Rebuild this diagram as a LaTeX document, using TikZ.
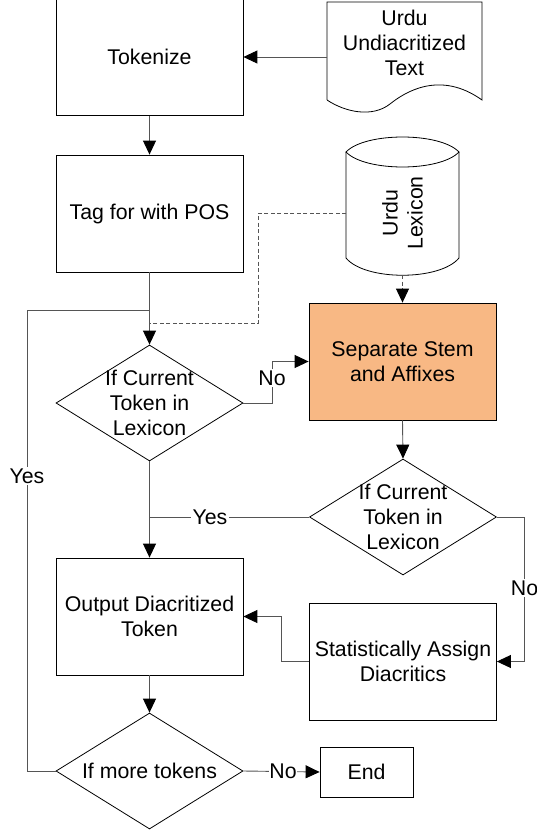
\documentclass[tikz,border=0pt]{standalone}
\usepackage{fontspec}
\setmainfont{Liberation Sans}
\usetikzlibrary{arrows.meta,shapes.geometric}
\definecolor{peach}{RGB}{248,184,132}
\definecolor{conncol}{RGB}{85,85,85}
\begin{document}
\begin{tikzpicture}[x=1pt,y=-1pt,
  every node/.style={font=\fontsize{21.3}{25}\selectfont},
  box/.style={draw=black, line width=0.8pt, align=center, inner sep=0pt,
              minimum width=187pt, minimum height=117pt},
  dia/.style={draw=black, line width=0.8pt, diamond, inner sep=0pt,
              minimum width=187pt, minimum height=116pt},
  txt/.style={align=center, inner sep=0pt},
  shp/.style={draw=black, line width=0.8pt},
  conn/.style={draw=conncol, line width=0.9pt},
  dsh/.style={dash pattern=on 4pt off 2.5pt},
  arr/.style={conn, -{Triangle[length=14pt,width=13pt,color=black]}},
  lbl/.style={fill=white, inner sep=1.5pt}]
\useasboundingbox (0,0) rectangle (537,832);

% boxes
\node[box] (tok) at (149.5,57) {Tokenize};
\node[box] (tag) at (149.5,213.5) {Tag for with POS};
\node[box, fill=peach] (sep) at (402.5,361.5) {Separate Stem\\and Affixes};
\node[box] (out) at (149.5,616.5) {Output Diacritized\\Token};
\node[box] (stat) at (403,661.5) {Statistically Assign\\Diacritics};
\node[box, minimum width=93pt, minimum height=50pt] (end) at (366.5,772) {End};

% diamonds
\node[dia] (d1) at (149.5,403) {};
\node[txt] (d1t) at (d1) {If Current\\Token in\\Lexicon};
\node[dia] (d2) at (403,517) {};
\node[txt] (d2t) at (d2) {If Current\\Token in\\Lexicon};
\node[dia] (d3) at (149.5,771) {};
\node[txt] (d3t) at (d3) {If more tokens};

% document shape
\draw[shp] (327,100) -- (327,2) -- (482,2) -- (482,100)
  .. controls (440,70) and (405,92) .. (390,104)
  .. controls (372,118) and (345,112) .. (327,100);
\node[txt] (doct) at (404.5,43) {Urdu\\Undiacritized\\Text};
\coordinate (docL) at (327,57);

% cylinder
\draw[shp] (346,152) .. controls (365,132) and (440,132) .. (459,152)
  .. controls (440,172) and (365,172) .. (346,152) -- cycle;
\draw[shp] (346,152) -- (346,258) .. controls (365,281) and (440,281) .. (459,258) -- (459,152);
\node[txt, rotate=90] (cylt) at (402.5,213) {Urdu\\Lexicon};
\coordinate (cylL) at (346,213);
\coordinate (cylB) at (402.5,275);

% connectors
\draw[arr] (docL) -- (tok.east |- docL);
\draw[arr] (tok.south) -- (tag.north);
\draw[arr] (tag.south) -- (d1.north);
\coordinate (dj) at (149.5,323);
\draw[conn, dsh] (cylL) -- (258,213) |- (dj);
\draw[arr, dsh] (cylB) -- (sep.north);
\coordinate (yj) at (149.5,310);
\draw[conn] (d3.west) -- (27,771) |- (yj);
\node[lbl] (yes1) at (27,476) {Yes};

\draw[arr] (d1.east) -- (272,403) |- (sep.west);
\node[lbl] (no1) at (272,378) {No};

\draw[arr] (sep.south) -- (d2.north);
\coordinate (yj2) at (149.5,517);
\draw[conn] (d2.west) -- (yj2);
\node[lbl] (yes2) at (210,517) {Yes};
\draw[arr] (d1.south) -- (out.north);

\draw[arr] (d2.east) -- (524.5,517) |- (stat.east);
\node[lbl] (no2) at (524.5,588) {No};

\draw[arr] (stat.west) -- (281,661.5) |- (out.east);
\draw[arr] (out.south) -- (d3.north);
\draw[arr] (d3.east) -- (end.west);
\node[lbl, inner sep=0.5pt] (no3) at (283,771) {No};
\end{tikzpicture}
\end{document}
